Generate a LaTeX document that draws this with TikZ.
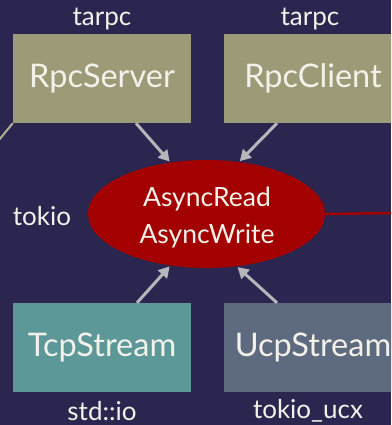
\documentclass[tikz,border=0pt]{standalone}
\usepackage{fontspec}
\setmainfont{Lato}
\usetikzlibrary{arrows.meta,shapes.geometric}
\definecolor{bgnavy}{HTML}{2A2650}
\definecolor{olivebox}{HTML}{9D9B77}
\definecolor{tealbox}{HTML}{5C9898}
\definecolor{slatebox}{HTML}{5E6A7F}
\definecolor{traitred}{HTML}{A30000}
\definecolor{arrowgray}{HTML}{B6B6BA}
\definecolor{txt}{HTML}{F2F1EA}
\tikzset{
  box/.style={minimum width=178pt, minimum height=89pt, inner sep=0pt,
    text=txt, font=\fontsize{32.5}{32.5}\selectfont},
  caption/.style={text=txt, font=\fontsize{26}{26}\selectfont, inner sep=0pt},
  uses/.style={draw=arrowgray, line width=3pt,
    -{Triangle[length=11pt,width=12pt]}, shorten >=1pt}
}
\begin{document}
\begin{tikzpicture}[x=1pt,y=-1pt]
  \useasboundingbox (0,0) rectangle (391,425);
  \fill[bgnavy] (0,0) rectangle (391,425);
  \clip (0,0) rectangle (391,425);

  % upper layer: tarpc
  \node[box, fill=olivebox] (server) at (102,78.5) {RpcServer};
  \node[box, fill=olivebox] (client) at (313,78.5) {RpcClient};
  \node[caption] (tarpcA) at (102,19) {tarpc};
  \node[caption] (tarpcB) at (310,19) {tarpc};

  % shared traits
  \node[ellipse, fill=traitred, minimum width=237pt, minimum height=108pt,
        inner sep=0pt] (traits) at (206.5,214) {};
  \node[text=txt, align=center, inner sep=0pt,
        font=\fontsize{26.5}{37}\selectfont] (traitnames) at (207,218)
        {AsyncRead\\AsyncWrite};
  \node[caption] (tokio) at (42,216) {tokio};

  % lower layer: streams
  \node[box, fill=tealbox] (tcp) at (102,347.5) {TcpStream};
  \node[box, fill=slatebox] (ucp) at (313,347.5) {UcpStream};
  \node[caption] (stdio) at (102,411) {std::io};
  \node[caption] (tucx) at (308,411) {tokio\_ucx};

  % links leaving the picture
  \coordinate (offleft) at (-6,146);
  \coordinate (offright) at (395,213);
  \draw[olivebox!80!white, line width=2pt] (server.south west) -- (offleft);
  \draw[traitred, line width=2.5pt] (traits.east) -- (offright);

  % dependency arrows
  \draw[uses] ([xshift=34pt]server.south) -- (traits.125);
  \draw[uses] ([xshift=-36pt]client.south) -- (traits.58);
  \draw[uses] ([xshift=35pt]tcp.north) -- (traits.235);
  \draw[uses] ([xshift=-36pt]ucp.north) -- (traits.300);
\end{tikzpicture}
\end{document}
